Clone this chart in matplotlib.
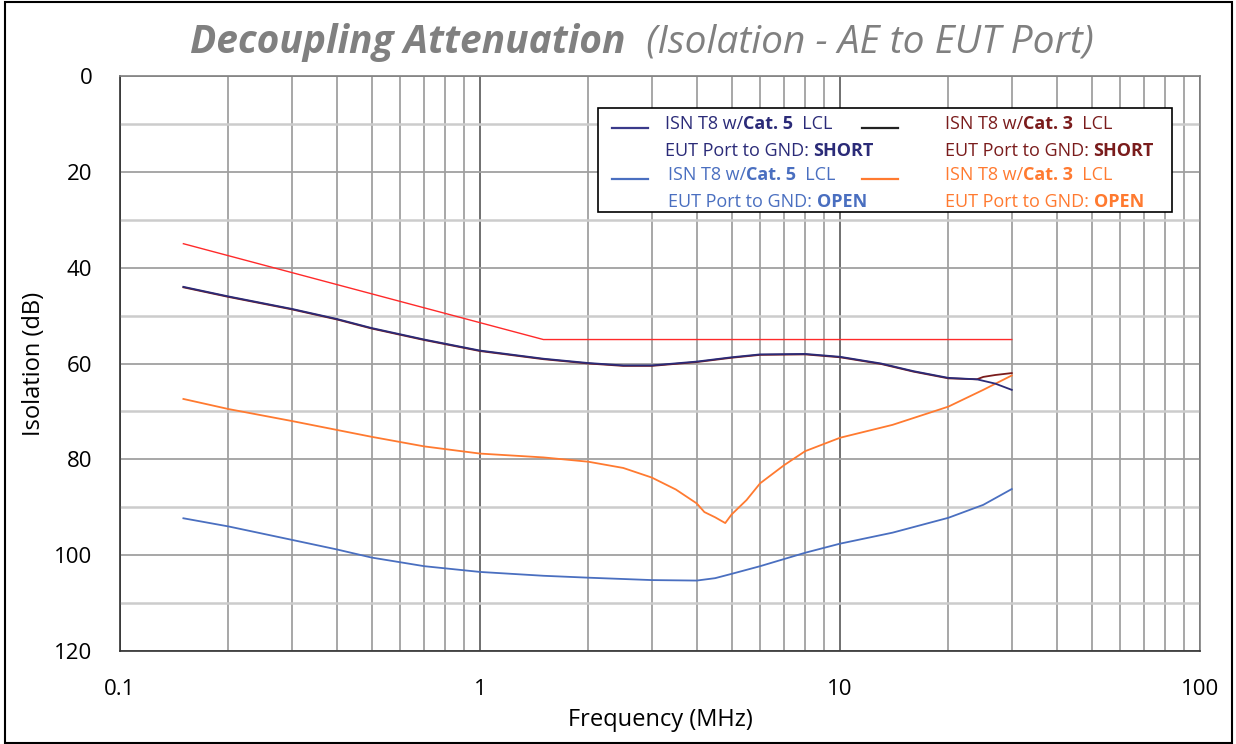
import matplotlib
matplotlib.use("Agg")
import matplotlib.pyplot as plt
from matplotlib.patches import Rectangle
from matplotlib.lines import Line2D
from matplotlib.ticker import FixedLocator, NullFormatter

plt.rcParams['font.family'] = ['Open Sans', 'DejaVu Sans']

# Cat. 5 LCL, EUT port shorted to GND
f_c5_short = [0.15, 0.2, 0.3, 0.4, 0.5, 0.7, 1.0, 1.5, 2.0, 2.5, 3.0, 4.0, 5.0,
              6.0, 8.0, 10.0, 13.0, 16.0, 20.0, 24.0, 27.0, 30.0]
db_c5_short = [44.0, 46.0, 48.6, 50.7, 52.6, 55.0, 57.3, 59.0, 59.9, 60.4, 60.4,
               59.6, 58.7, 58.1, 58.0, 58.6, 60.0, 61.6, 63.0, 63.3, 64.2, 65.5]

# Cat. 3 LCL, EUT port shorted to GND
f_c3_short = [0.15, 0.2, 0.3, 0.4, 0.5, 0.7, 1.0, 1.5, 2.0, 2.5, 3.0, 4.0, 5.0,
              6.0, 8.0, 10.0, 13.0, 16.0, 20.0, 24.0, 25.0, 27.0, 30.0]
db_c3_short = [44.1, 46.1, 48.7, 50.8, 52.7, 55.1, 57.4, 59.1, 60.0, 60.5, 60.5,
               59.7, 58.8, 58.2, 58.1, 58.7, 60.1, 61.7, 63.1, 63.3, 62.8, 62.4, 62.0]

# Cat. 5 LCL, EUT port open
f_c5_open = [0.15, 0.2, 0.3, 0.4, 0.5, 0.7, 1.0, 1.5, 2.0, 3.0, 4.0, 4.5, 5.0,
             6.0, 7.0, 8.0, 10.0, 14.0, 20.0, 25.0, 30.0]
db_c5_open = [92.3, 94.0, 96.8, 98.8, 100.5, 102.3, 103.5, 104.3, 104.7, 105.2,
              105.3, 104.8, 103.9, 102.3, 100.8, 99.5, 97.6, 95.3, 92.2, 89.5, 86.2]

# Cat. 3 LCL, EUT port open
f_c3_open = [0.15, 0.2, 0.3, 0.5, 0.7, 1.0, 1.5, 2.0, 2.5, 3.0, 3.5, 4.0, 4.2,
             4.5, 4.8, 5.0, 5.5, 6.0, 7.0, 8.0, 10.0, 14.0, 20.0, 25.0, 30.0]
db_c3_open = [67.4, 69.5, 72.0, 75.3, 77.3, 78.8, 79.6, 80.5, 81.8, 83.8, 86.3,
              89.2, 91.0, 92.1, 93.3, 91.5, 88.5, 85.0, 81.2, 78.3, 75.5, 72.8,
              69.0, 65.5, 62.5]

# limit line
f_limit = [0.15, 1.5, 30.0]
db_limit = [35.0, 55.0, 55.0]

W, H = 1236, 744
fig = plt.figure(figsize=(W / 100, H / 100), dpi=100)
ax = fig.add_axes([120 / W, 1 - 651 / H, 1080 / W, 575 / H])


def px(x, y):
    return x / W, 1 - y / H


ax.plot(f_limit, db_limit, color='#ff2a2a', lw=1.0)
ax.plot(f_c3_open, db_c3_open, color='#ff7a30', lw=1.3)
ax.plot(f_c5_open, db_c5_open, color='#4a6fc0', lw=1.3)
ax.plot(f_c3_short, db_c3_short, color='#7a1c1c', lw=1.3)
ax.plot(f_c5_short, db_c5_short, color='#2b2b78', lw=1.3)

ax.set_xscale('log')
ax.set_xlim(0.1, 100)
ax.set_ylim(120, 0)

ax.xaxis.set_major_locator(FixedLocator([0.1, 1, 10, 100]))
ax.set_xticklabels(['0.1', '1', '10', '100'])
ax.xaxis.set_minor_locator(FixedLocator([m * d for d in [0.1, 1, 10] for m in range(2, 10)]))
ax.xaxis.set_minor_formatter(NullFormatter())
ax.yaxis.set_major_locator(FixedLocator([0, 20, 40, 60, 80, 100, 120]))
ax.yaxis.set_minor_locator(FixedLocator([10, 30, 50, 70, 90, 110]))

ax.grid(which='major', axis='x', color='#707070', lw=1.4)
ax.grid(which='minor', axis='x', color='#a0a0a0', lw=1.3)
ax.grid(which='major', axis='y', color='#a0a0a0', lw=1.3)
ax.grid(which='minor', axis='y', color='#cccccc', lw=1.8)
ax.set_axisbelow(True)
ax.tick_params(which='both', length=0)
ax.tick_params(axis='y', pad=20, labelsize=16)
ax.tick_params(axis='x', pad=20, labelsize=16)
for s in ['left', 'bottom']:
    ax.spines[s].set_color('#303030')
    ax.spines[s].set_linewidth(1.2)
for s in ['top', 'right']:
    ax.spines[s].set_color('#808080')
    ax.spines[s].set_linewidth(1.2)

ax.set_xlabel('Frequency (MHz)', fontsize=17, labelpad=6)
ax.set_ylabel('Isolation (dB)', fontsize=17, labelpad=6)

# title in two styles
t1 = ax.text(*px(190, 53), 'Decoupling Attenuation', transform=fig.transFigure,
             fontsize=28, fontweight='bold', style='italic', color='#808080',
             va='baseline', clip_on=False)
ax.annotate('  (Isolation - AE to EUT Port)', xy=(1, 0), xycoords=t1, fontsize=28,
            style='italic', color='#808080', va='bottom', ha='left',
            annotation_clip=False)


# legend drawn by hand (mixed bold text)
def rich_line(x, y, pieces, color, size=13):
    prev = None
    for txt, bold in pieces:
        w = 'bold' if bold else 'normal'
        if prev is None:
            prev = ax.text(*px(x, y), txt, transform=fig.transFigure, fontsize=size,
                           fontweight=w, color=color, va='bottom', ha='left',
                           clip_on=False, zorder=10)
        else:
            prev = ax.annotate(txt, xy=(1, 0), xycoords=prev, fontsize=size, fontweight=w,
                               color=color, va='bottom', ha='left',
                               annotation_clip=False, zorder=10)


ax.add_artist(Rectangle(px(598, 212), 574 / W, 104 / H, transform=fig.transFigure,
                        facecolor='white', edgecolor='black', lw=1.2, zorder=8,
                        clip_on=False))

entries = [
    (612, 665, 128, 133, '5', 'SHORT', '#2b2b78', '#3a3a8a'),
    (862, 945, 128, 133, '3', 'SHORT', '#7a1c1c', '#222222'),
    (612, 668, 179, 184, '5', 'OPEN', '#4a6fc0', '#4a6fc0'),
    (862, 945, 179, 184, '3', 'OPEN', '#ff7a30', '#ff7a30'),
]
for lx, tx, ly, ty, cat, state, tcol, lcol in entries:
    ax.add_artist(Line2D([lx / W, (lx + 36) / W], [1 - ly / H, 1 - ly / H],
                         transform=fig.transFigure, color=lcol, lw=1.6, zorder=9,
                         clip_on=False))
    rich_line(tx, ty, [('ISN T8 w/', False), ('Cat. ' + cat, True), ('  LCL', False)], tcol)
    rich_line(tx, ty + 27, [('EUT Port to GND: ', False), (state, True)], tcol)

# frame around the whole picture
fig.patches.append(Rectangle((5 / W, 1 / H), 1227 / W, 741 / H, transform=fig.transFigure,
                             fill=False, edgecolor='black', lw=1.5))

fig.savefig('out.png', dpi=100)
